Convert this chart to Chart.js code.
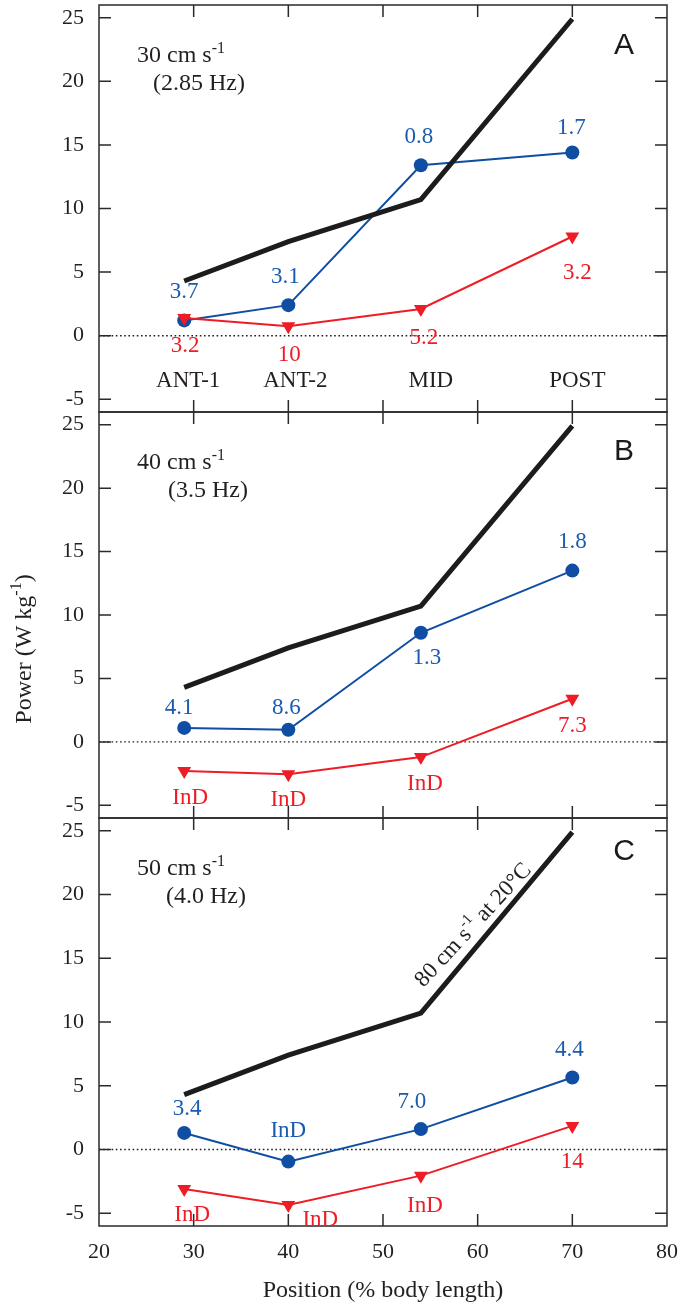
<!DOCTYPE html>
<html>
<head>
<meta charset="utf-8">
<script src="https://cdn.jsdelivr.net/npm/chart.js@4.4.0/dist/chart.umd.min.js"></script>
<style>
  html, body { margin: 0; padding: 0; background: #fff; overflow: hidden; }
  body { width: 690px; height: 1303px; position: relative; }
  canvas { position: absolute; left: 0; }
</style>
</head>
<body>
<canvas id="panelA" width="690" height="437" style="top:-10px"></canvas>
<canvas id="panelB" width="690" height="436" style="top:397px"></canvas>
<canvas id="panelC" width="690" height="500" style="top:803px"></canvas>
<script>
// segment positions (% body length)
const positions = [29, 40, 54, 70];
const categories = ["ANT-1", "ANT-2", "MID", "POST"];
const yTicks = [-5, 0, 5, 10, 15, 20, 25];
const xTicks = [20, 30, 40, 50, 60, 70, 80];
const innerTicksX = [30, 40, 50, 60, 70];

// 80 cm s-1 at 20°C, repeated in every panel
const refPower = [4.3, 7.4, 10.7, 24.9];

// A: 30 cm s-1
const bluePowerA = [1.2, 2.4, 13.4, 14.4];
const redPowerA = [1.4, 0.75, 2.1, 7.8];
const blueLabelsA = ["3.7", "3.1", "0.8", "1.7"];
const redLabelsA = ["3.2", "10", "5.2", "3.2"];

// B: 40 cm s-1
const bluePowerB = [1.1, 0.95, 8.6, 13.5];
const redPowerB = [-2.3, -2.55, -1.2, 3.4];
const blueLabelsB = ["4.1", "8.6", "1.3", "1.8"];
const redLabelsB = ["InD", "InD", "InD", "7.3"];

// C: 50 cm s-1
const bluePowerC = [1.3, -0.95, 1.6, 5.65];
const redPowerC = [-3.1, -4.35, -2.05, 1.85];
const blueLabelsC = ["3.4", "InD", "7.0", "4.4"];
const redLabelsC = ["InD", "InD", "InD", "14"];

const SERIF = '"Liberation Serif", "Times New Roman", serif';
const INK = "#231f20";
const BLUE = "#0f4ea3";
const BLUE_TXT = "#1a5bb0";
const RED = "#ee1c25";

// draw text pieces, some as superscript; returns width
function supText(ctx, x, y, parts, size, measureOnly) {
  let cx = x;
  for (const [t, sup] of parts) {
    ctx.font = (sup ? Math.round(size * 0.66) : size) + "px " + SERIF;
    if (!measureOnly) ctx.fillText(t, cx, sup ? y - size * 0.36 : y);
    cx += ctx.measureText(t).width;
  }
  return cx - x;
}

const panelDeco = {
  id: "panelDeco",
  beforeDatasetsDraw(chart) {
    const { ctx, chartArea: a, scales: { y } } = chart;
    const y0 = y.getPixelForValue(0);
    ctx.save();
    ctx.strokeStyle = INK;
    ctx.lineWidth = 1.4;
    ctx.setLineDash([1.6, 2.6]);
    ctx.beginPath();
    ctx.moveTo(a.left, y0);
    ctx.lineTo(a.right, y0);
    ctx.stroke();
    ctx.restore();
  },
  afterDatasetsDraw(chart, args, opts) {
    const { ctx, chartArea: a, scales: { x, y } } = chart;
    ctx.save();

    // frame with inward ticks
    ctx.strokeStyle = "#2a2a2a";
    ctx.lineWidth = 1.5;
    ctx.strokeRect(a.left, a.top, a.right - a.left, a.bottom - a.top);
    ctx.beginPath();
    innerTicksX.forEach((v) => {
      const px = x.getPixelForValue(v);
      ctx.moveTo(px, a.top); ctx.lineTo(px, a.top + 12);
      ctx.moveTo(px, a.bottom); ctx.lineTo(px, a.bottom - 12);
    });
    yTicks.forEach((v) => {
      const py = y.getPixelForValue(v);
      ctx.moveTo(a.left, py); ctx.lineTo(a.left + 12, py);
      ctx.moveTo(a.right, py); ctx.lineTo(a.right - 12, py);
    });
    ctx.stroke();

    // value labels next to points
    ctx.textAlign = "center";
    ctx.textBaseline = "middle";
    ctx.font = "23px " + SERIF;
    const put = (idx, texts, offs, color) => {
      const pts = chart.getDatasetMeta(idx).data;
      ctx.fillStyle = color;
      texts.forEach((t, i) => ctx.fillText(t, pts[i].x + offs[i][0], pts[i].y + offs[i][1]));
    };
    put(1, opts.redLabels, opts.redOffsets, RED);
    put(2, opts.blueLabels, opts.blueOffsets, BLUE_TXT);

    // panel letter
    ctx.fillStyle = "#1a1a1a";
    ctx.font = '30px "Liberation Sans", Arial, sans-serif';
    ctx.fillText(opts.letter, 624, a.top + opts.letterDy);

    // speed / frequency
    ctx.textAlign = "left";
    ctx.textBaseline = "alphabetic";
    ctx.fillStyle = INK;
    supText(ctx, 137, a.top + 57, [[opts.speed, false], ["-1", true]], 24);
    ctx.font = "24px " + SERIF;
    ctx.fillText(opts.freq, opts.freqX, a.top + 85);

    // segment names along the bottom of panel A
    if (opts.showCategories) {
      const pts = chart.getDatasetMeta(0).data;
      ctx.textAlign = "center";
      ctx.textBaseline = "middle";
      ctx.font = "23px " + SERIF;
      const cy = y.getPixelForValue(-3.55);
      categories.forEach((c, i) => ctx.fillText(c, pts[i].x + opts.catDx[i], cy));
    }

    // y axis title
    if (opts.yTitle) {
      const parts = [["Power (W kg", false], ["-1", true], [")", false]];
      ctx.save();
      ctx.translate(25, a.top + 237);
      ctx.rotate(-Math.PI / 2);
      ctx.textAlign = "left";
      ctx.textBaseline = "middle";
      const w = supText(ctx, 0, 0, parts, 24, true);
      supText(ctx, -w / 2, 0, parts, 24);
      ctx.restore();
    }

    // label along the reference line
    if (opts.refNote) {
      const pts = chart.getDatasetMeta(0).data;
      const p1 = pts[2], p2 = pts[3];
      const ang = Math.atan2(p2.y - p1.y, p2.x - p1.x);
      const ux = Math.cos(ang), uy = Math.sin(ang);
      const cx = p1.x + ux * 101 + uy * 16;
      const cy = p1.y + uy * 101 - ux * 16;
      const parts = [["80 cm s", false], ["-1", true], [" at 20°C", false]];
      ctx.save();
      ctx.translate(cx, cy);
      ctx.rotate(ang + 0.05);
      ctx.textAlign = "left";
      ctx.textBaseline = "middle";
      ctx.fillStyle = INK;
      const w = supText(ctx, 0, 0, parts, 23, true);
      supText(ctx, -w / 2, 0, parts, 23);
      ctx.restore();
    }
    ctx.restore();
  },
};

function toPoints(values) {
  return positions.map((p, i) => ({ x: p, y: values[i] }));
}

function makePanel(id, bluePower, redPower, deco, showX) {
  const tickFont = { family: SERIF, size: 22 };
  const hidden = "rgba(0,0,0,0)";
  return new Chart(document.getElementById(id), {
    type: "line",
    data: {
      datasets: [
        {
          label: "80 cm s-1 at 20°C",
          data: toPoints(refPower),
          borderColor: "#1c1c1c",
          borderWidth: 5,
          pointRadius: 0,
        },
        {
          label: "red",
          data: toPoints(redPower),
          borderColor: RED,
          backgroundColor: RED,
          borderWidth: 2,
          pointStyle: "triangle",
          pointRotation: 180,
          pointRadius: 8,
          pointBorderWidth: 0,
        },
        {
          label: "blue",
          data: toPoints(bluePower),
          borderColor: BLUE,
          backgroundColor: BLUE,
          borderWidth: 2,
          pointStyle: "circle",
          pointRadius: 7,
          pointBorderWidth: 0,
        },
      ],
    },
    options: {
      responsive: false,
      animation: false,
      devicePixelRatio: 1,
      layout: { padding: { left: 0, right: 23, top: 15, bottom: showX ? 0 : 15 } },
      plugins: {
        legend: { display: false },
        tooltip: { enabled: false },
        panelDeco: deco,
      },
      scales: {
        x: {
          type: "linear",
          min: 20,
          max: 80,
          display: showX,
          afterBuildTicks: (s) => { s.ticks = xTicks.map((v) => ({ value: v })); },
          afterFit: (s) => { s.height = showX ? 77 : 0; },
          grid: { display: true, color: hidden, drawOnChartArea: false, tickLength: 13 },
          border: { display: false },
          ticks: { padding: 0, font: tickFont, color: INK, maxRotation: 0 },
          title: {
            display: true,
            text: "Position (% body length)",
            color: INK,
            font: { family: SERIF, size: 24, lineHeight: 1 },
            padding: { top: 0, bottom: 0 },
          },
        },
        y: {
          min: -6,
          max: 26,
          afterBuildTicks: (s) => { s.ticks = yTicks.map((v) => ({ value: v })); },
          afterFit: (s) => { s.width = 99; },
          grid: { display: true, color: hidden, drawOnChartArea: false, tickLength: 15 },
          border: { display: false },
          ticks: { padding: 0, font: tickFont, color: INK },
        },
      },
    },
    plugins: [panelDeco],
  });
}

makePanel("panelA", bluePowerA, redPowerA, {
  letter: "A", letterDy: 41,
  speed: "30 cm s", freq: "(2.85 Hz)", freqX: 153,
  blueLabels: blueLabelsA, redLabels: redLabelsA,
  blueOffsets: [[0, -28], [-3, -28], [-2, -28], [-1, -25]],
  redOffsets: [[1, 28], [1, 29], [3, 29], [5, 36]],
  showCategories: true, catDx: [4, 7, 10, 5],
}, false);

makePanel("panelB", bluePowerB, redPowerB, {
  letter: "B", letterDy: 40,
  speed: "40 cm s", freq: "(3.5 Hz)", freqX: 168,
  blueLabels: blueLabelsB, redLabels: redLabelsB,
  blueOffsets: [[-5, -20], [-2, -22], [6, 25], [0, -29]],
  redOffsets: [[6, 27], [0, 26], [4, 27], [0, 27]],
  yTitle: true,
}, false);

makePanel("panelC", bluePowerC, redPowerC, {
  letter: "C", letterDy: 34,
  speed: "50 cm s", freq: "(4.0 Hz)", freqX: 166,
  blueLabels: blueLabelsC, redLabels: redLabelsC,
  blueOffsets: [[3, -24], [0, -31], [-9, -27], [-3, -28]],
  redOffsets: [[8, 26], [32, 15], [4, 30], [0, 36]],
  refNote: true,
}, true);
</script>
</body>
</html>
